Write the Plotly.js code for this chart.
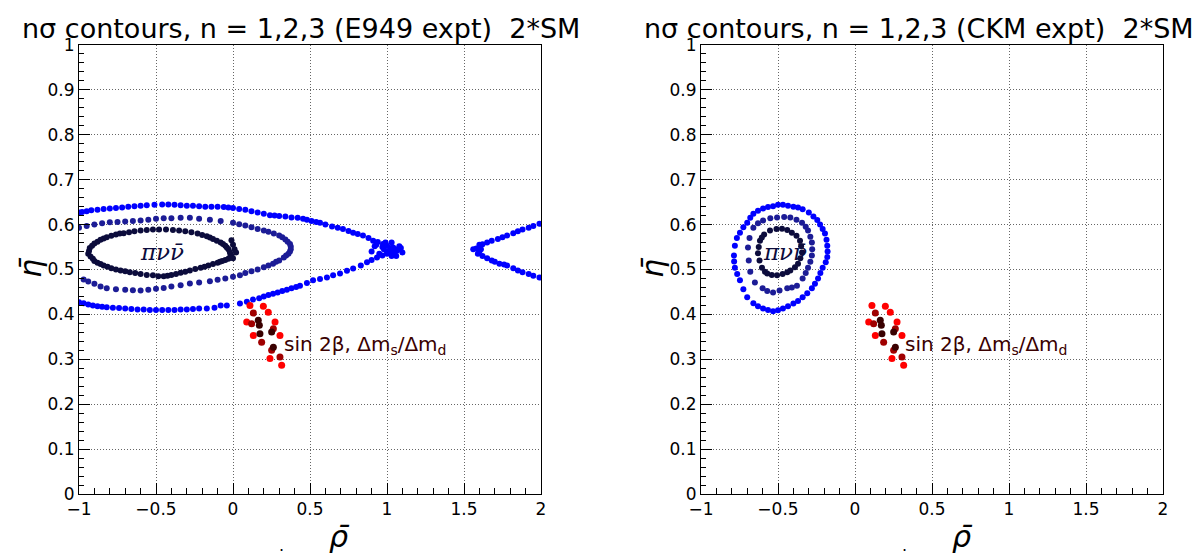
<!DOCTYPE html>
<html><head><meta charset="utf-8">
<script src="https://cdn.plot.ly/plotly-3.0.1.min.js"></script>
<style>html,body{margin:0;padding:0;background:#fff;}#chart{width:1199px;height:556px;}</style>
</head><body><div id="chart"></div>
<script>
// ---------- Left panel (E949 expt) ----------
// n = 3 contour (blue): upper row, upper arm, tip, lower arm, lower row, right-hand V
const e949_n3_x = [-1.00,-0.98,-0.95,-0.92,-0.88,-0.84,-0.80,-0.76,-0.72,-0.68,-0.64,-0.60,-0.56,-0.51,-0.46,-0.42,-0.38,-0.34,-0.30,-0.26,-0.22,-0.18,-0.14,-0.10,-0.06,-0.03,0.00,0.04,0.08,0.12,0.16,0.20,0.24,0.27,0.30,0.34,0.38,0.42,
  0.455,0.48,0.51,0.54,0.565,0.60,0.643,0.68,0.714,0.75,0.78,0.81,0.844,0.88,0.91,0.94,0.974,1.00,1.04,1.07,1.10,
  1.08,1.06,1.03,0.98,0.95,0.92,0.90,0.97,1.00,1.02,1.05,1.09,0.99,0.93,1.03,1.00,1.065,
  1.03,0.97,0.935,0.90,0.87,0.83,0.78,0.74,0.695,0.65,0.61,0.565,0.52,0.48,0.435,
  0.41,0.38,0.35,0.32,0.29,0.26,0.23,0.20,0.17,0.13,0.09,0.045,-0.04,-0.08,-0.12,-0.17,-0.22,-0.26,-0.30,-0.34,-0.38,-0.42,-0.46,-0.50,-0.54,-0.58,-0.62,-0.66,-0.70,-0.74,-0.78,-0.82,-0.85,-0.88,-0.91,-0.94,-0.97,-1.00,
  1.58,1.56,1.60,1.60,1.59,1.61,1.62,1.65,1.68,1.72,1.75,1.78,1.82,1.85,1.88,1.92,1.95,1.99,1.62,1.65,1.68,1.70,1.73,1.76,1.78,1.82,1.85,1.88,1.92,1.95,1.99];
const e949_n3_y = [0.627,0.628,0.630,0.632,0.633,0.635,0.636,0.637,0.638,0.640,0.641,0.642,0.643,0.644,0.645,0.645,0.644,0.643,0.642,0.642,0.641,0.640,0.640,0.640,0.639,0.638,0.637,0.635,0.633,0.630,0.627,0.624,0.621,0.620,0.619,0.618,0.616,0.615,
  0.613,0.611,0.608,0.606,0.604,0.600,0.596,0.593,0.590,0.586,0.582,0.579,0.576,0.570,0.564,0.561,0.557,0.553,0.549,0.545,0.538,
  0.552,0.530,0.560,0.545,0.535,0.552,0.540,0.550,0.540,0.548,0.538,0.548,0.560,0.555,0.530,0.535,0.542,
  0.538,0.531,0.527,0.521,0.516,0.509,0.502,0.497,0.491,0.487,0.482,0.479,0.476,0.470,0.464,
  0.461,0.458,0.455,0.452,0.449,0.446,0.443,0.440,0.436,0.433,0.428,0.424,0.420,0.420,0.415,0.413,0.413,0.412,0.411,0.411,0.410,0.410,0.410,0.410,0.410,0.411,0.411,0.412,0.413,0.414,0.415,0.416,0.417,0.418,0.420,0.422,0.425,0.427,
  0.547,0.545,0.555,0.540,0.535,0.545,0.556,0.560,0.564,0.568,0.572,0.576,0.581,0.585,0.589,0.593,0.597,0.602,0.530,0.525,0.520,0.517,0.513,0.511,0.509,0.503,0.498,0.494,0.490,0.486,0.482];
// n = 2 contour (dark blue)
const e949_n2_x = [-1.00,-0.95,-0.90,-0.85,-0.80,-0.75,-0.70,-0.65,-0.60,-0.55,-0.50,-0.45,-0.40,-0.34,-0.28,-0.22,-0.15,-0.08,0.00,0.04,0.08,0.12,0.16,0.20,0.23,0.265,0.30,0.32,0.34,0.355,0.37,0.375,0.375,0.37,0.36,0.345,0.33,0.30,0.28,0.26,0.23,0.20,0.16,0.12,0.08,0.045,0.00,-0.05,-0.10,-0.15,-0.22,-0.28,-0.34,-0.40,-0.45,-0.50,-0.55,-0.60,-0.65,-0.70,-0.76,-0.82,-0.86,-0.90,-0.94,-0.97];
const e949_n2_y = [0.593,0.597,0.600,0.603,0.605,0.606,0.607,0.608,0.609,0.611,0.613,0.614,0.614,0.615,0.615,0.613,0.611,0.608,0.604,0.601,0.598,0.594,0.590,0.587,0.584,0.580,0.576,0.572,0.567,0.562,0.557,0.551,0.545,0.540,0.535,0.531,0.527,0.520,0.517,0.513,0.509,0.505,0.500,0.496,0.492,0.487,0.484,0.480,0.477,0.474,0.471,0.469,0.465,0.462,0.459,0.457,0.455,0.453,0.454,0.455,0.456,0.458,0.462,0.468,0.473,0.478];
// n = 1 contour (navy)
const e949_n1_x = [-0.94,-0.935,-0.93,-0.915,-0.90,-0.88,-0.86,-0.84,-0.82,-0.79,-0.76,-0.735,-0.71,-0.675,-0.64,-0.60,-0.56,-0.52,-0.48,-0.435,-0.39,-0.35,-0.31,-0.27,-0.23,-0.20,-0.17,-0.15,-0.13,-0.105,-0.08,-0.065,-0.05,-0.04,-0.03,-0.02,-0.015,-0.01,-0.02,-0.03,-0.05,-0.07,-0.085,-0.10,-0.13,-0.16,-0.185,-0.21,-0.245,-0.28,-0.31,-0.34,-0.37,-0.40,-0.425,-0.45,-0.485,-0.52,-0.56,-0.60,-0.635,-0.67,-0.70,-0.73,-0.76,-0.79,-0.815,-0.84,-0.86,-0.88,-0.90,-0.91,-0.925,
  0.00,0.01,-0.01,0.00,0.02];
const e949_n1_y = [0.535,0.541,0.548,0.553,0.558,0.562,0.566,0.569,0.572,0.575,0.578,0.580,0.581,0.583,0.585,0.587,0.588,0.589,0.589,0.589,0.588,0.587,0.585,0.583,0.580,0.577,0.574,0.571,0.568,0.564,0.560,0.557,0.553,0.549,0.545,0.538,0.534,0.530,0.527,0.524,0.521,0.519,0.517,0.515,0.512,0.509,0.506,0.504,0.501,0.498,0.495,0.493,0.490,0.488,0.486,0.485,0.485,0.487,0.488,0.490,0.492,0.494,0.496,0.498,0.500,0.503,0.506,0.509,0.512,0.515,0.519,0.524,0.529,
  0.555,0.545,0.565,0.525,0.538];

// ---------- Right panel (CKM expt) ----------
const ckm_n3_x = [-0.786,-0.78,-0.767,-0.747,-0.725,-0.70,-0.68,-0.66,-0.63,-0.597,-0.565,-0.532,-0.50,-0.468,-0.435,-0.40,-0.37,-0.34,-0.30,-0.27,-0.245,-0.227,-0.21,-0.195,-0.185,-0.18,-0.178,-0.18,-0.19,-0.21,-0.225,-0.24,-0.26,-0.28,-0.31,-0.34,-0.37,-0.40,-0.435,-0.468,-0.50,-0.532,-0.565,-0.597,-0.63,-0.66,-0.70,-0.725,-0.747,-0.765,-0.78,-0.785];
const ckm_n3_y = [0.531,0.553,0.570,0.582,0.594,0.604,0.615,0.624,0.631,0.636,0.639,0.641,0.644,0.644,0.642,0.640,0.638,0.634,0.627,0.618,0.610,0.600,0.590,0.580,0.566,0.553,0.540,0.528,0.516,0.504,0.492,0.480,0.468,0.458,0.447,0.438,0.430,0.424,0.418,0.413,0.409,0.407,0.410,0.413,0.418,0.425,0.438,0.456,0.476,0.490,0.504,0.518];
const ckm_n2_x = [-0.695,-0.685,-0.66,-0.63,-0.597,-0.55,-0.506,-0.46,-0.42,-0.38,-0.344,-0.32,-0.305,-0.29,-0.28,-0.278,-0.28,-0.29,-0.305,-0.32,-0.34,-0.377,-0.41,-0.44,-0.49,-0.532,-0.57,-0.60,-0.65,-0.68,-0.69];
const ckm_n2_y = [0.549,0.570,0.593,0.603,0.609,0.614,0.616,0.617,0.616,0.611,0.604,0.595,0.587,0.573,0.560,0.545,0.531,0.517,0.504,0.492,0.480,0.464,0.460,0.458,0.453,0.449,0.452,0.458,0.471,0.495,0.520];
const ckm_n1_x = [-0.617,-0.625,-0.63,-0.62,-0.604,-0.585,-0.57,-0.54,-0.506,-0.47,-0.44,-0.42,-0.39,-0.37,-0.355,-0.344,-0.35,-0.357,-0.38,-0.41,-0.44,-0.474,-0.51,-0.552,-0.59,-0.605];
const ckm_n1_y = [0.564,0.550,0.536,0.520,0.504,0.495,0.491,0.488,0.487,0.490,0.494,0.498,0.505,0.513,0.525,0.538,0.552,0.564,0.575,0.582,0.588,0.591,0.590,0.587,0.578,0.571];

// ---------- sin 2beta, dms/dmd points (same in both panels) ----------
const sin_red_x  = [0.110,0.197,0.229,0.089,0.132,0.273,0.305,0.240,0.316];
const sin_red_y  = [0.420,0.418,0.405,0.383,0.353,0.383,0.353,0.302,0.287];
const sin_dark_x = [0.132,0.121,0.186,0.262,0.251,0.305];
const sin_dark_y = [0.403,0.379,0.338,0.368,0.320,0.305];
const sin_core_x = [0.164,0.171,0.175,0.251,0.262];
const sin_core_y = [0.387,0.376,0.357,0.361,0.327];

const titles = ["n\u03c3 contours, n = 1,2,3 (E949 expt)\u00a0\u00a02*SM", "n\u03c3 contours, n = 1,2,3 (CKM expt)\u00a0\u00a02*SM"];
const xTickVals = [-1,-0.5,0,0.5,1,1.5,2];
const yTickVals = [0,0.1,0.2,0.3,0.4,0.5,0.6,0.7,0.8,0.9,1];

const C3 = "#0000ff", C2 = "#1c1c96", C1 = "#0c0c3c";
const CR = "#ff0000", CD = "#a00000", CK = "#3a0000";

function pts(x, y, color, size, xa, ya) {
  return {x: x, y: y, type: "scatter", mode: "markers", xaxis: xa, yaxis: ya,
          marker: {color: color, size: size, line: {width: 0}}, hoverinfo: "skip"};
}
const data = [
  pts(e949_n3_x, e949_n3_y, C3, 6, "x", "y"),
  pts(e949_n2_x, e949_n2_y, C2, 6, "x", "y"),
  pts(e949_n1_x, e949_n1_y, C1, 6, "x", "y"),
  pts(sin_red_x, sin_red_y, CR, 7, "x", "y"),
  pts(sin_dark_x, sin_dark_y, CD, 7, "x", "y"),
  pts(sin_core_x, sin_core_y, CK, 7, "x", "y"),
  pts(ckm_n3_x, ckm_n3_y, C3, 6, "x2", "y2"),
  pts(ckm_n2_x, ckm_n2_y, C2, 6, "x2", "y2"),
  pts(ckm_n1_x, ckm_n1_y, C1, 6, "x2", "y2"),
  pts(sin_red_x, sin_red_y, CR, 7, "x2", "y2"),
  pts(sin_dark_x, sin_dark_y, CD, 7, "x2", "y2"),
  pts(sin_core_x, sin_core_y, CK, 7, "x2", "y2")
];

const tickFont = {family: "DejaVu Sans, sans-serif", size: 17, color: "#000"};
function xax(domain) {
  return {domain: domain, range: [-1, 2], tickvals: xTickVals, ticktext: xTickVals.map(v => v < 0 ? "\u2212" + Math.abs(v) : String(v)),
    ticks: "inside", ticklen: 11, tickcolor: "#000", tickwidth: 1,
    minor: {dtick: 0.1, ticks: "inside", ticklen: 6, tickcolor: "#000", showgrid: false},
    showline: true, mirror: true, linecolor: "#000", linewidth: 1,
    showgrid: true, gridcolor: "#666", griddash: "1px,2px", gridwidth: 1,
    zeroline: false, tickfont: tickFont, fixedrange: true};
}
function yax(anchor) {
  return {domain: [0, 1], range: [0, 1], anchor: anchor, tickvals: yTickVals, ticktext: yTickVals.map(v => String(v)),
    ticks: "inside", ticklen: 11, tickcolor: "#000", tickwidth: 1,
    minor: {dtick: 0.02, ticks: "inside", ticklen: 5, tickcolor: "#000", showgrid: false},
    showline: true, mirror: true, linecolor: "#000", linewidth: 1,
    showgrid: true, gridcolor: "#666", griddash: "1px,2px", gridwidth: 1,
    zeroline: false, tickfont: tickFont, fixedrange: true};
}

const L = 79, R = 36, T = 45, B = 62, W = 1199, H = 556;
const PW = W - L - R, PH = H - T - B;
const px = p => (p - L) / PW;
const py = p => (H - B - p) / PH;

const titleFont = {family: "DejaVu Sans, sans-serif", size: 27, color: "#000"};
const axTitleFont = {family: "DejaVu Sans, sans-serif", size: 30, color: "#000"};
const labelFont = {family: "DejaVu Sans, sans-serif", size: 20, color: "#3a0000"};
const pnnFont = {family: "DejaVu Serif, serif", size: 23, color: "#0c0c3c"};

const annotations = [
  {text: titles[0], xref: "paper", yref: "paper", x: px(301), y: py(28), xanchor: "center", yanchor: "middle", showarrow: false, font: titleFont},
  {text: titles[1], xref: "paper", yref: "paper", x: px(919), y: py(28), xanchor: "center", yanchor: "middle", showarrow: false, font: titleFont},
  {text: "<i>\u03b7\u0304</i>", xref: "paper", yref: "paper", x: px(30), y: py(268), textangle: -90, xanchor: "center", yanchor: "middle", showarrow: false, font: axTitleFont},
  {text: "<i>\u03b7\u0304</i>", xref: "paper", yref: "paper", x: px(652), y: py(268), textangle: -90, xanchor: "center", yanchor: "middle", showarrow: false, font: axTitleFont},
  {text: "<i>\u03c1\u0304</i>", xref: "paper", yref: "paper", x: px(339), y: py(536), xanchor: "center", yanchor: "middle", showarrow: false, font: axTitleFont},
  {text: "<i>\u03c1\u0304</i>", xref: "paper", yref: "paper", x: px(962), y: py(536), xanchor: "center", yanchor: "middle", showarrow: false, font: axTitleFont},
  {text: ".", xref: "paper", yref: "paper", x: px(281), y: py(545), xanchor: "center", yanchor: "middle", showarrow: false, font: {family: "DejaVu Sans", size: 16, color: "#000"}},
  {text: ".", xref: "paper", yref: "paper", x: px(904), y: py(545), xanchor: "center", yanchor: "middle", showarrow: false, font: {family: "DejaVu Sans", size: 16, color: "#000"}},
  {text: "<i>\u03c0\u03bd\u03bd\u0304</i>", xref: "x", yref: "y", x: -0.46, y: 0.538, xanchor: "center", yanchor: "middle", showarrow: false, font: pnnFont},
  {text: "<i>\u03c0\u03bd\u03bd\u0304</i>", xref: "x2", yref: "y2", x: -0.455, y: 0.538, xanchor: "center", yanchor: "middle", showarrow: false, font: pnnFont},
  {text: "sin 2\u03b2, \u0394m<sub>s</sub>/\u0394m<sub>d</sub>", xref: "x", yref: "y", x: 0.318, y: 0.331, xanchor: "left", yanchor: "middle", showarrow: false, font: labelFont},
  {text: "sin 2\u03b2, \u0394m<sub>s</sub>/\u0394m<sub>d</sub>", xref: "x2", yref: "y2", x: 0.312, y: 0.331, xanchor: "left", yanchor: "middle", showarrow: false, font: labelFont}
];

const layout = {
  width: W, height: H, margin: {l: L, r: R, t: T, b: B},
  paper_bgcolor: "#fff", plot_bgcolor: "#fff", showlegend: false, hovermode: false,
  xaxis: xax([0, px(541)]), yaxis: yax("x"),
  xaxis2: Object.assign(xax([px(701), 1]), {anchor: "y2"}), yaxis2: yax("x2"),
  annotations: annotations
};
layout.xaxis.anchor = "y";

Plotly.newPlot("chart", data, layout, {displayModeBar: false, staticPlot: true});
</script></body></html>
